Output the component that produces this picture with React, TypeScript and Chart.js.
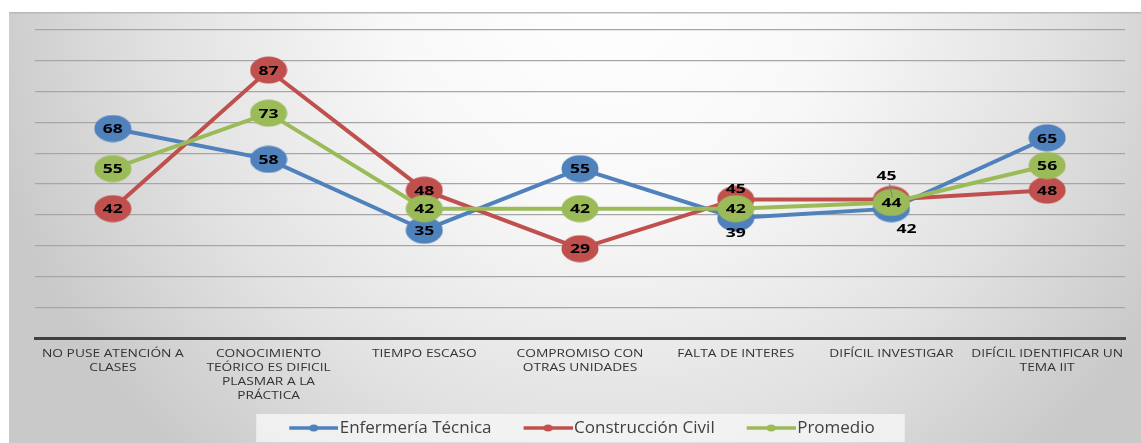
import { useEffect, useRef } from "react";
import { Chart, registerables } from "chart.js";

Chart.register(...registerables);

// ---- data ----
const categories: string[][] = [
  ["NO PUSE ATENCIÓN A", "CLASES"],
  ["CONOCIMIENTO", "TEÓRICO ES DIFICIL", "PLASMAR A LA", "PRÁCTICA"],
  ["TIEMPO ESCASO"],
  ["COMPROMISO CON", "OTRAS UNIDADES"],
  ["FALTA DE INTERES"],
  ["DIFÍCIL INVESTIGAR"],
  ["DIFÍCIL IDENTIFICAR UN", "TEMA IIT"],
];
const enfermeriaTecnica = [68, 58, 35, 55, 39, 42, 65];
const construccionCivil = [42, 87, 48, 29, 45, 45, 48];
const promedio = [55, 73, 42, 42, 42, 44, 56];
const seriesNames = ["Enfermería Técnica", "Construcción Civil", "Promedio"];
const yMin = 0;
const yMax = 100;
const yStep = 10;

// ---- styles ----
const seriesColors = ["#4F81BD", "#C0504D", "#9BBB59"];
// label offsets (dx, dy) in pixels per series / category
const labelOffsets: number[][][] = [
  [[0, 0], [0, 0], [0, 0], [0, 0], [0, 14], [15, 20], [0, 0]],
  [[0, 0], [0, 0], [0, 0], [0, 0], [0, -11], [-5, -24], [0, 0]],
  [[0, 0], [0, 0], [0, 0], [0, 0], [0, 0], [0, 0], [0, 0]],
];
const leaderLines: boolean[][] = [
  [false, false, false, false, false, false, false],
  [false, false, false, false, false, true, false],
  [false, false, false, false, false, false, false],
];
const TICK_FONT = "11px 'Open Sans'";
const TICK_STRETCH = 1.25;
const TICK_LINE = 14;

function makeEllipse(color: string): HTMLCanvasElement {
  const c = document.createElement("canvas");
  c.width = 38;
  c.height = 28;
  const g = c.getContext("2d")!;
  g.fillStyle = color;
  g.beginPath();
  g.ellipse(19, 14, 18.5, 13.5, 0, 0, Math.PI * 2);
  g.fill();
  return c;
}

function makeLegendSample(color: string): HTMLCanvasElement {
  const c = document.createElement("canvas");
  c.width = 56;
  c.height = 12;
  const g = c.getContext("2d")!;
  g.strokeStyle = color;
  g.lineWidth = 3.5;
  g.beginPath();
  g.moveTo(7, 6);
  g.lineTo(56, 6);
  g.stroke();
  g.fillStyle = color;
  g.beginPath();
  g.ellipse(31.5, 6, 4.5, 3.5, 0, 0, Math.PI * 2);
  g.fill();
  return c;
}

const backgroundPlugin = {
  id: "bgPlugin",
  beforeDraw(chart: any) {
    const { ctx, width, height } = chart;
    ctx.save();
    const grad = ctx.createRadialGradient(600, -30, 0, 600, -30, 640);
    grad.addColorStop(0, "#ffffff");
    grad.addColorStop(0.35, "#f8f8f8");
    grad.addColorStop(0.7, "#e2e2e2");
    grad.addColorStop(1, "#c9c9c9");
    ctx.fillStyle = grad;
    ctx.fillRect(0, 0, width, height);
    ctx.strokeStyle = "#b8b8b8";
    ctx.lineWidth = 1.5;
    ctx.beginPath();
    ctx.moveTo(0, 0.75);
    ctx.lineTo(width, 0.75);
    ctx.stroke();
    // legend background
    const legend = chart.legend;
    if (legend && legend.legendHitBoxes && legend.legendHitBoxes.length) {
      const hbs = legend.legendHitBoxes;
      let l = Infinity;
      let r = -Infinity;
      let cy = 0;
      for (const hb of hbs) {
        l = Math.min(l, hb.left);
        r = Math.max(r, hb.left + hb.width);
        cy = hb.top + hb.height / 2;
      }
      const left = l - 33;
      const right = r + 30;
      ctx.fillStyle = "rgba(245,245,245,0.85)";
      ctx.fillRect(left, cy - 14, right - left, 28);
    }
    ctx.restore();
  },
};

const labelPlugin = {
  id: "valueLabels",
  afterDraw(chart: any) {
    const { ctx } = chart;
    // category labels (stretched like the reference)
    const xs = chart.scales.x;
    ctx.save();
    ctx.font = TICK_FONT;
    ctx.fillStyle = "#333333";
    ctx.textAlign = "center";
    ctx.textBaseline = "middle";
    (chart.data.labels as string[][]).forEach((lines, i) => {
      const px = xs.getPixelForTick(i);
      lines.forEach((ln, li) => {
        ctx.save();
        ctx.translate(px, xs.top + 9 + TICK_LINE / 2 + li * TICK_LINE);
        ctx.scale(TICK_STRETCH, 1);
        ctx.fillText(ln, 0, 0);
        ctx.restore();
      });
    });
    ctx.restore();
  },
  afterDatasetsDraw(chart: any) {
    const { ctx } = chart;
    ctx.save();
    ctx.font = "bold 13px 'Open Sans'";
    ctx.textAlign = "center";
    ctx.textBaseline = "middle";
    chart.data.datasets.forEach((ds: any, di: number) => {
      const meta = chart.getDatasetMeta(di);
      meta.data.forEach((pt: any, i: number) => {
        const [dx, dy] = labelOffsets[di][i];
        const x = pt.x + dx;
        const y = pt.y + dy;
        if (leaderLines[di][i]) {
          ctx.strokeStyle = "#7f7f7f";
          ctx.lineWidth = 1;
          ctx.beginPath();
          ctx.moveTo(x + 3, y + 8);
          ctx.lineTo(pt.x + 1, pt.y - 2);
          ctx.stroke();
        }
        ctx.fillStyle = "#000000";
        ctx.save();
        ctx.translate(x, y + 1);
        ctx.scale(1.35, 1);
        ctx.fillText(String(ds.data[i]), 0, 0);
        ctx.restore();
      });
    });
    ctx.restore();
  },
};

export default function App() {
  const canvasRef = useRef<HTMLCanvasElement | null>(null);

  useEffect(() => {
    if (!canvasRef.current) return;
    const markers = seriesColors.map(makeEllipse);
    const samples = seriesColors.map(makeLegendSample);
    const seriesData = [enfermeriaTecnica, construccionCivil, promedio];
    const orders = [2, 1, 0];

    const chart = new Chart(canvasRef.current, {
      type: "line",
      data: {
        labels: categories,
        datasets: seriesData.map((d, i) => ({
          label: seriesNames[i],
          data: d,
          borderColor: seriesColors[i],
          backgroundColor: seriesColors[i],
          borderWidth: 4,
          pointStyle: markers[i],
          pointRadius: 12,
          pointHoverRadius: 12,
          tension: 0,
          fill: false,
          order: orders[i],
        })),
      },
      options: {
        animation: false,
        responsive: false,
        events: [],
        layout: { padding: { left: 26, right: 12, top: 18, bottom: -3.5 } },
        scales: {
          x: {
            offset: true,
            grid: { display: false, drawTicks: false },
            border: { display: true, color: "#404040", width: 3 },
            ticks: {
              padding: 8,
              color: "rgba(0,0,0,0)",
              maxRotation: 0,
              autoSkip: false,
              font: { family: "'Open Sans'", size: 11, lineHeight: "14px" },
            },
            afterFit: (scale: any) => {
              scale.height = 49.5;
            },
          },
          y: {
            min: yMin,
            max: yMax,
            ticks: { display: false, stepSize: yStep },
            grid: { color: "#a6a6a6", lineWidth: 1.3, drawTicks: false },
            border: { display: false },
          },
        },
        plugins: {
          tooltip: { enabled: false },
          legend: {
            position: "bottom",
            labels: {
              usePointStyle: true,
              pointStyleWidth: 42,
              boxHeight: 12,
              padding: 32,
              color: "#404040",
              font: { family: "'Open Sans'", size: 17 },
              generateLabels: (c: any) => {
                const items = Chart.defaults.plugins.legend.labels.generateLabels(c);
                items.sort((a: any, b: any) => a.datasetIndex - b.datasetIndex);
                return items.map((it: any) => ({
                  ...it,
                  pointStyle: samples[it.datasetIndex],
                  lineWidth: 0,
                }));
              },
            },
          },
        },
      },
      plugins: [backgroundPlugin, labelPlugin],
    } as any);

    return () => chart.destroy();
  }, []);

  return (
    <div style={{ position: "absolute", left: 9, top: 12, width: 1132, height: 431 }}>
      <canvas ref={canvasRef} width={1132} height={431} />
    </div>
  );
}
